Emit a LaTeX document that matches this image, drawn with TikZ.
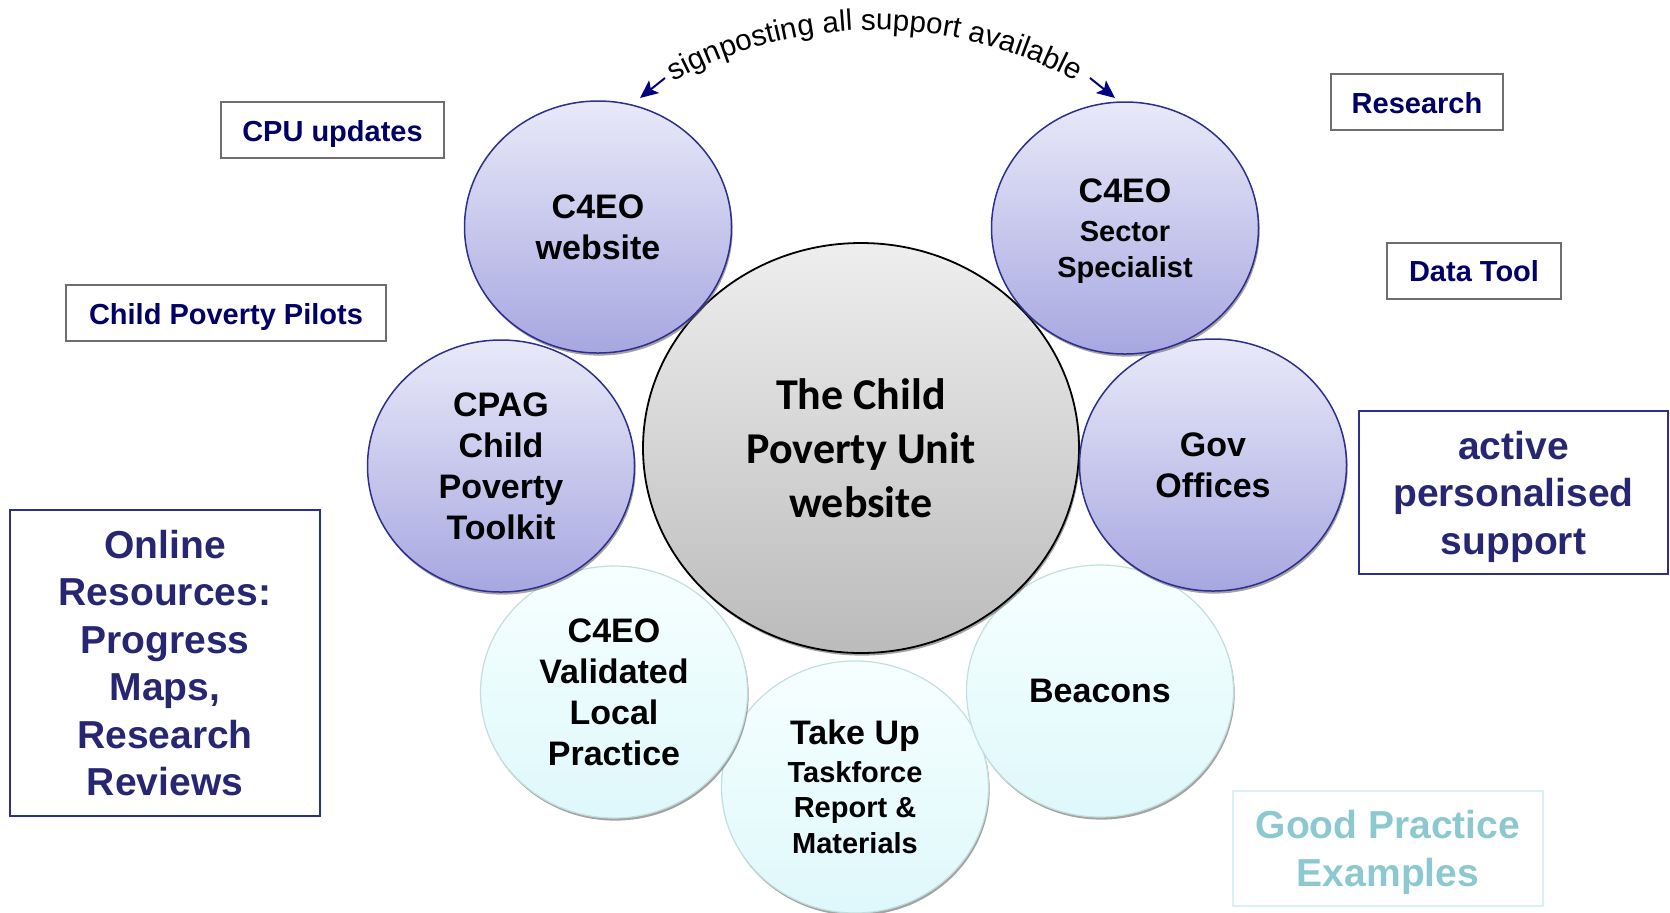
\documentclass[tikz,border=0pt]{standalone}
\usepackage{fontspec}
\setmainfont{Liberation Sans}
\newfontfamily\cpufont{Carlito}
\usepackage{xcolor}
\usepackage{tikz}
\usetikzlibrary{calc}
\usetikzlibrary{shapes.geometric}
\usetikzlibrary{shadows}
\usetikzlibrary{arrows.meta}
\usetikzlibrary{decorations.text}
\definecolor{navyline}{HTML}{2E2E8F}
\definecolor{navyarrow}{HTML}{000080}
\definecolor{navytext}{HTML}{000066}
\definecolor{boxtext}{HTML}{262673}
\definecolor{lavtop}{HTML}{E9E9F9}
\definecolor{lavbot}{HTML}{A7A7E1}
\definecolor{aquatop}{HTML}{F7FFFF}
\definecolor{aquabot}{HTML}{DEF8FB}
\definecolor{aqualine}{HTML}{C4DEDE}
\definecolor{greytop}{HTML}{EEEEEE}
\definecolor{greybot}{HTML}{BBBBBB}
\definecolor{goodtext}{HTML}{8CC8D0}
\definecolor{goodline}{HTML}{DCEFF2}
\definecolor{boxgray}{HTML}{6E6E6E}
\def\bigline#1{{\fontsize{17}{18}\selectfont #1}}
\tikzset{
	bubble/.style={ellipse,minimum width=133.5pt,minimum height=126pt,inner sep=0pt,align=center,
		font=\bfseries\fontsize{17}{20.5}\selectfont,
		drop shadow={shadow xshift=0.6pt,shadow yshift=-1.3pt,fill=black!60,opacity=0.6}},
	blue bubble/.style={bubble,draw=navyline,line width=0.75pt,top color=lavtop,bottom color=lavbot},
	aqua bubble/.style={bubble,draw=aqualine,line width=0.6pt,top color=aquatop,bottom color=aquabot},
	small lines/.style={font=\bfseries\fontsize{14.5}{17.8}\selectfont},
	tag/.style={draw=boxgray,line width=1pt,fill=white,text=navytext,
		font=\bfseries\fontsize{14.5}{16}\selectfont,minimum height=28pt,inner sep=0pt,
		text height=11pt,text depth=0pt},
	panel/.style={draw=navyline,line width=0.9pt,text=boxtext,align=center,inner sep=0pt,
		font=\bfseries\fontsize{19.5}{23.75}\selectfont,text depth=0pt},
	signarrow/.style={draw=navyarrow,line width=1pt,-{Stealth[length=9pt,width=8pt,inset=2pt]}}
}

\begin{document}
\begin{tikzpicture}[x=0.5pt,y=0.5pt]
	\useasboundingbox (0,0) rectangle (1670,-912);
	\node[aqua bubble,small lines] (takeup) at (855,-787) {\bigline{Take Up}\\[1pt]Taskforce\\Report \&\\Materials};
	\node[aqua bubble] (valid) at (614,-692) {C4EO\\Validated\\Local\\Practice};
	\node[aqua bubble] (beacons) at (1100,-691) {Beacons};
	\node[ellipse,minimum width=218pt,minimum height=205pt,inner sep=0pt,align=center,
		draw=black,line width=0.9pt,top color=greytop,bottom color=greybot,
		drop shadow={shadow xshift=0.6pt,shadow yshift=-1.3pt,fill=black!60,opacity=0.6},
		font=\cpufont\bfseries\fontsize{22}{27}\selectfont] (cpu) at (861,-448) {The Child\\Poverty Unit\\website};
	\node[blue bubble] (cpag) at (501,-466) {CPAG\\Child\\Poverty\\Toolkit};
	\node[blue bubble] (gov) at (1213,-465) {Gov\\Offices};
	\node[blue bubble] (web) at (598,-227) {C4EO\\website};
	\node[blue bubble,small lines,text depth=0pt] (sector) at (1125,-228) {\bigline{C4EO}\\[2pt]Sector\\Specialist};

	\node[tag,minimum width=111.5pt] (cpuup) at (332.5,-130) {CPU updates};
	\node[tag,minimum width=160pt] (pilots) at (226,-313) {Child Poverty Pilots};
	\node[tag,minimum width=86pt] (research) at (1417,-102) {Research};
	\node[tag,minimum width=87pt] (datatool) at (1474,-270.5) {Data Tool};
	\node[panel,minimum width=154.5pt,minimum height=81.5pt] (active) at (1513.5,-492.5) {active\\personalised\\support};
	\node[panel,minimum width=155pt,minimum height=153pt] (online) at (165,-663) {Online\\Resources:\\Progress\\Maps,\\Research\\Reviews};
	\node[panel,draw=goodline,text=goodtext,minimum width=155pt,minimum height=57.5pt,
		font=\bfseries\fontsize{19.5}{24}\selectfont] (good) at (1388,-848.5) {Good Practice\\Examples};

	\coordinate (hub) at (875,-450);
	\path[decorate,decoration={text along path,text align=center,
		text={|\fontsize{14.8}{17}\selectfont|signposting all support available}}]
		($(hub)+(118:210pt)$) arc[start angle=118,end angle=62,radius=210pt];
	\coordinate (signL) at (665,-78);
	\coordinate (signLtip) at (640,-98);
	\coordinate (signR) at (1090,-78);
	\coordinate (signRtip) at (1115,-98);
	\draw[signarrow] (signL) -- (signLtip);
	\draw[signarrow] (signR) -- (signRtip);
\end{tikzpicture}
\end{document}
